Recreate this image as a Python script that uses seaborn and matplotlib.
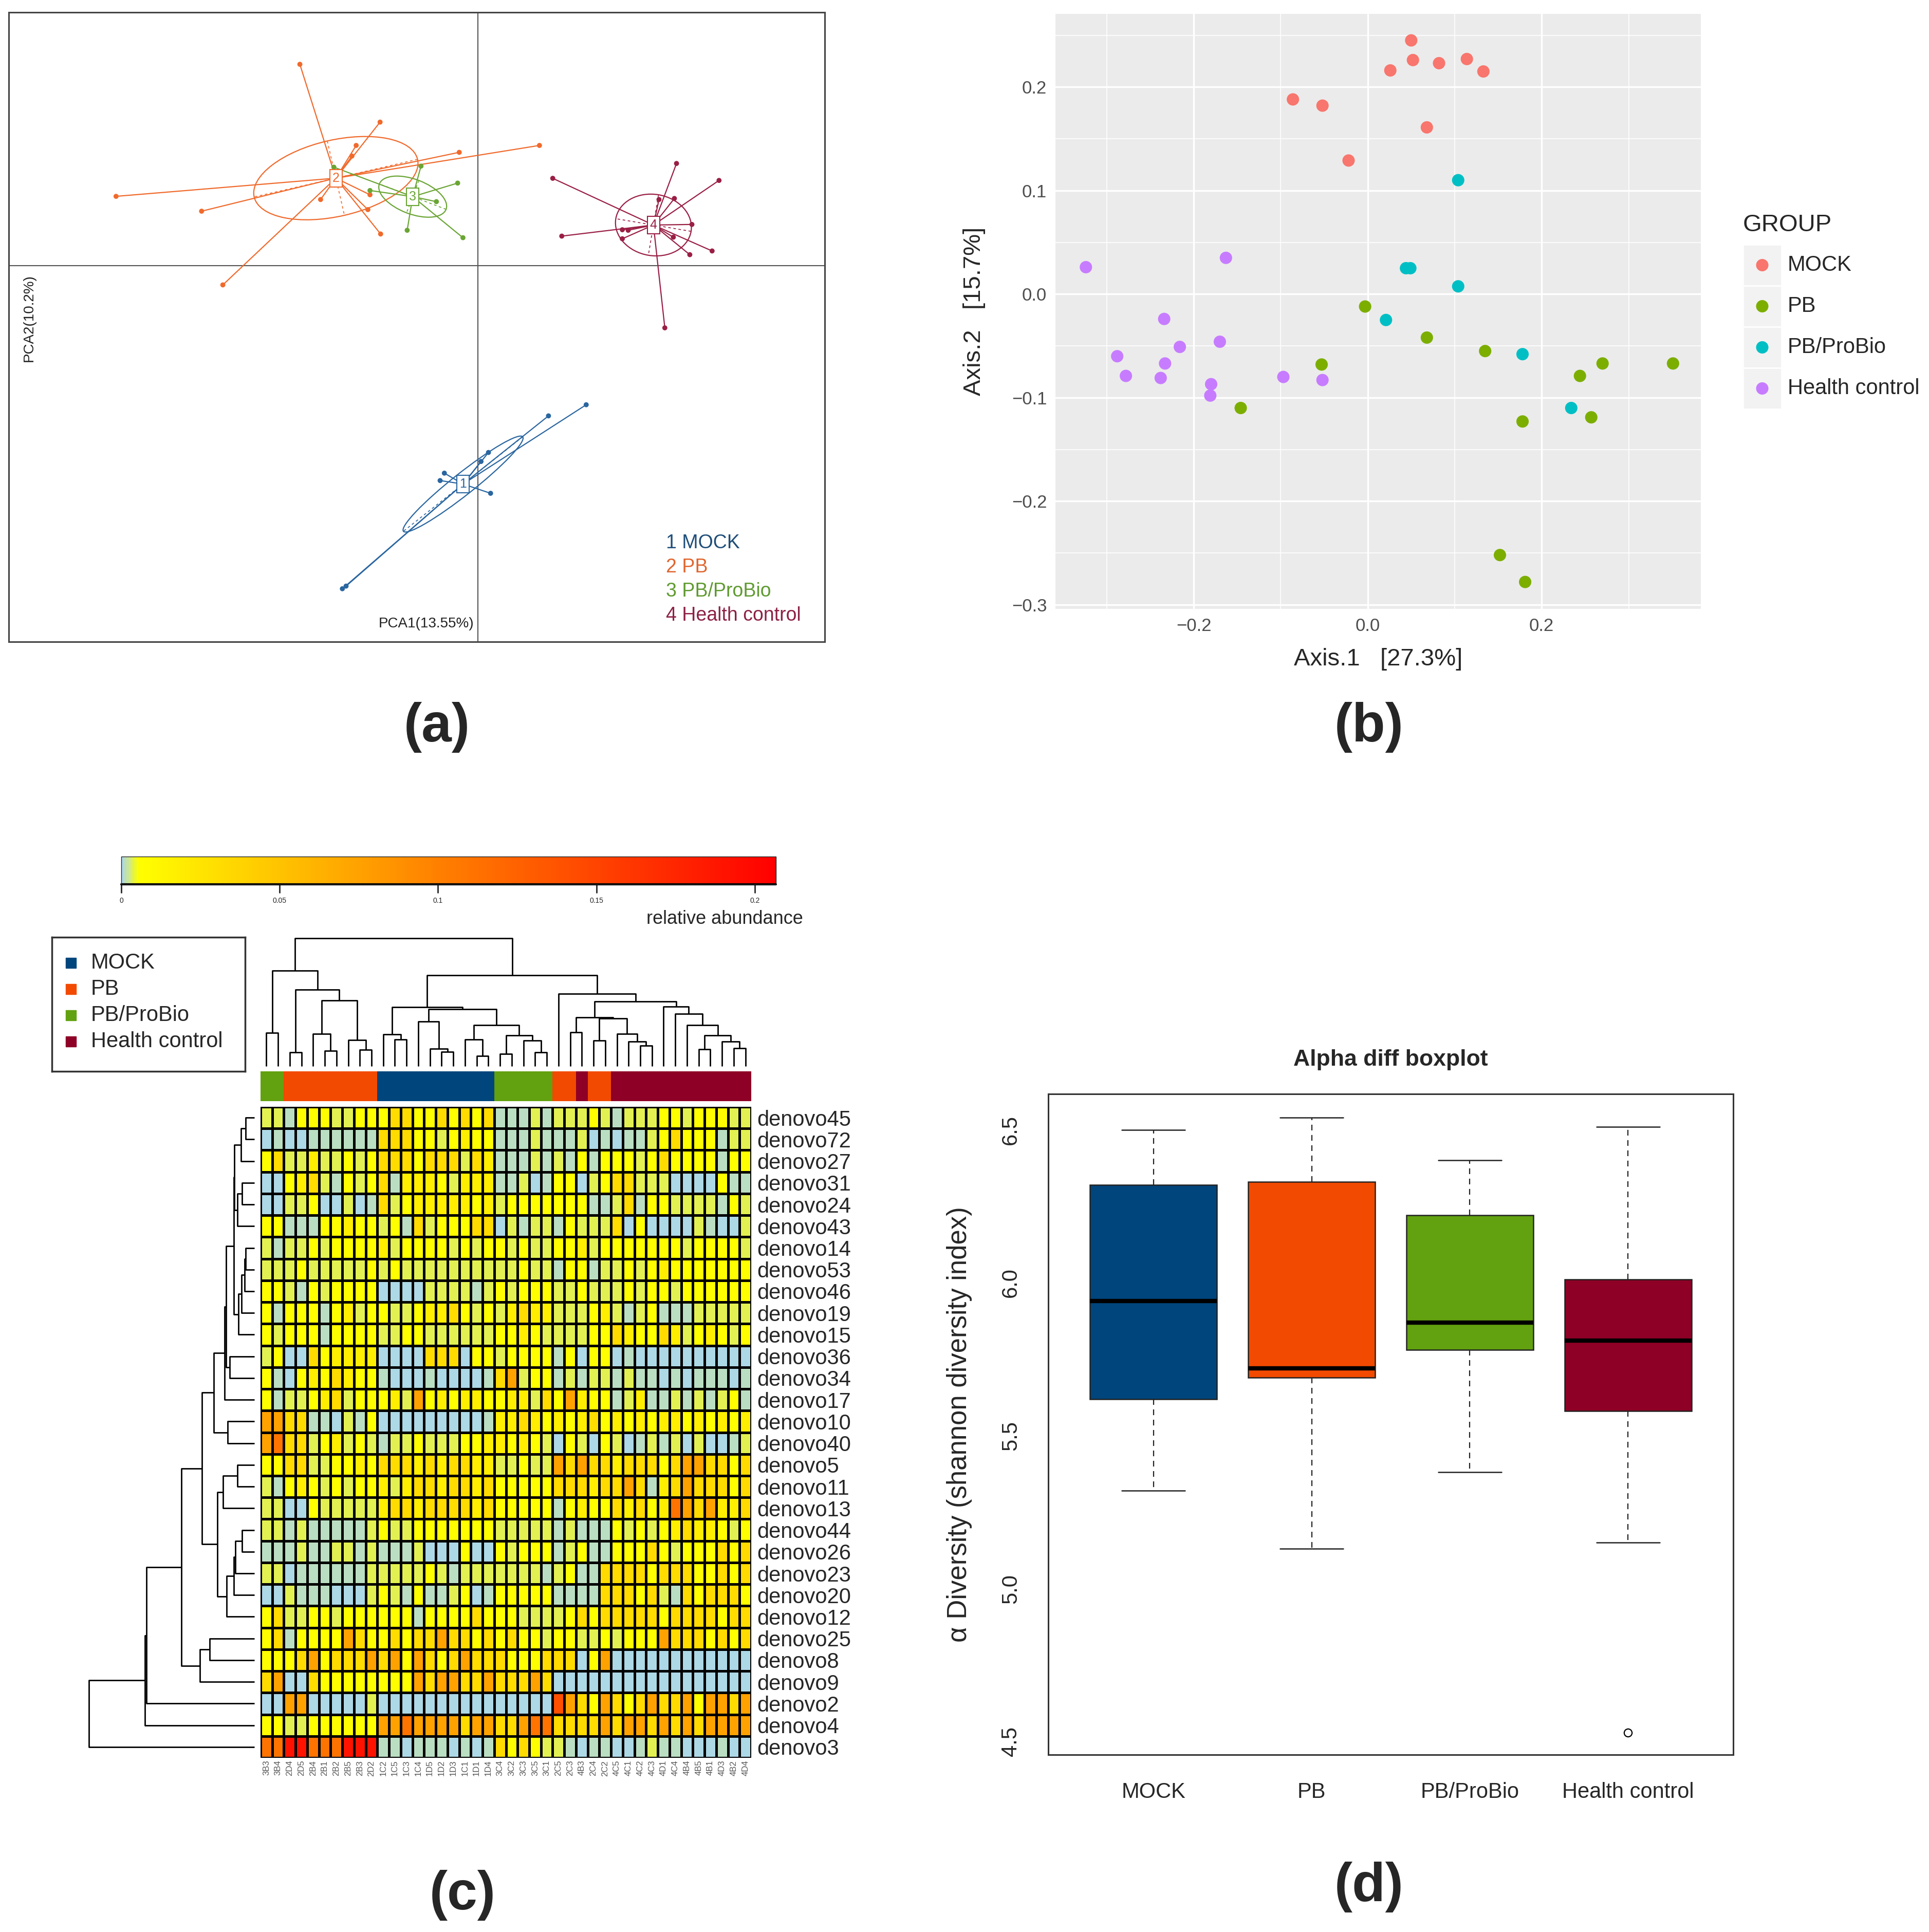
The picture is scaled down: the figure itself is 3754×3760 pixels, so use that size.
import numpy as np
import pandas as pd
import matplotlib
matplotlib.use("Agg")
import matplotlib.pyplot as plt
import seaborn as sns
from matplotlib.patches import Ellipse, Rectangle
from matplotlib.colors import LinearSegmentedColormap, ListedColormap, Normalize
from matplotlib.cm import ScalarMappable

sns.set_style("white")
plt.rcParams["font.family"] = ["Liberation Sans", "DejaVu Sans"]

W, H = 3754, 3760


def rect(x0, y0, x1, y1):
    # pixel box -> figure fraction
    return [x0 / W, 1 - y1 / H, (x1 - x0) / W, (y1 - y0) / H]


groups = ["MOCK", "PB", "PB/ProBio", "Health control"]
group_cols = ["#00457c", "#f24a00", "#62a10f", "#8e0026"]

# ---------------- (a) PCA star plot ----------------
mock_pc1 = np.array([2.04, 1.33, 0.20, 0.06, -0.63, -0.71, 0.24, -2.55, -2.48])
mock_pc2 = np.array([-2.62, -2.83, -3.52, -3.69, -3.91, -4.05, -4.29, -6.09, -6.04])
pb_pc1 = np.array([-3.35, -1.84, -2.29, -2.37, -0.35, 1.16, -6.81, -5.20, -2.96, -2.07, -1.83, -4.80, -2.03])
pb_pc2 = np.array([3.80, 2.71, 2.27, 2.07, 2.14, 2.27, 1.31, 1.03, 1.25, 1.06, 0.60, -0.36, 1.34])
probio_pc1 = np.array([-2.71, -1.07, -0.38, -2.03, -0.78, -1.33, -0.28])
probio_pc2 = np.array([1.86, 1.88, 1.56, 1.42, 1.21, 0.67, 0.53])
hc_pc1 = np.array([1.41, 3.74, 4.54, 3.41, 3.70, 4.03, 1.58, 2.72, 2.83, 2.72, 3.68, 4.41, 3.99, 3.52])
hc_pc2 = np.array([1.65, 1.93, 1.61, 1.25, 1.27, 0.78, 0.56, 0.68, 0.67, 0.51, 0.54, 0.28, 0.21, -1.17])
pca_line_cols = ["#2a66a0", "#f06a2c", "#6aa534", "#9a1f45"]
pca_text_cols = ["#1f4e79", "#e0652e", "#5f9a30", "#8c2146"]
ell_scale = 0.78

fig = plt.figure(figsize=(W / 100, H / 100), dpi=100)
ax_a = fig.add_axes(rect(17, 24, 1605, 1249))
ax_a.set_xlim(-8.83, 6.53)
ax_a.set_ylim(-7.09, 4.78)
ax_a.set_xticks([])
ax_a.set_yticks([])
for s in ax_a.spines.values():
    s.set_color("#444444")
    s.set_linewidth(2.2)
ax_a.axhline(0, color="#555555", lw=1.5)
ax_a.axvline(0, color="#555555", lw=1.5)

pca_sets = [(mock_pc1, mock_pc2), (pb_pc1, pb_pc2), (probio_pc1, probio_pc2), (hc_pc1, hc_pc2)]
for k, (xs, ys) in enumerate(pca_sets):
    col = pca_line_cols[k]
    cx, cy = xs.mean(), ys.mean()
    for x, y in zip(xs, ys):
        ax_a.plot([cx, x], [cy, y], color=col, lw=1.6, zorder=2)
    ax_a.scatter(xs, ys, s=50, color=col, zorder=3, edgecolor="none")
    cov = np.cov(np.vstack([xs, ys]), bias=True)
    vals, vecs = np.linalg.eigh(cov)
    ang = np.degrees(np.arctan2(vecs[1, 1], vecs[0, 1]))
    ax_a.add_patch(Ellipse((cx, cy), 2 * ell_scale * np.sqrt(vals[1]), 2 * ell_scale * np.sqrt(vals[0]),
                           angle=ang, fill=False, ec=col, lw=1.6, zorder=2))
    for j in range(2):
        v = vecs[:, j] * ell_scale * np.sqrt(vals[j])
        ax_a.plot([cx - v[0], cx + v[0]], [cy - v[1], cy + v[1]], color=col, lw=1.2,
                  ls=(0, (3, 3)), zorder=2)
    ax_a.text(cx, cy, str(k + 1), ha="center", va="center", fontsize=18, color=col, zorder=4,
              bbox=dict(boxstyle="square,pad=0.2", fc="white", ec=col, lw=1.5))

for k, g in enumerate(groups):
    fig.text(1296 / W, 1 - (1057 + 47 * k) / H, f"{k + 1} {g}", color=pca_text_cols[k],
             fontsize=27, va="center", ha="left")
fig.text(922 / W, 1 - 1214 / H, "PCA1(13.55%)", fontsize=20, ha="right", va="center", color="#222222")
fig.text(57 / W, 1 - 619 / H, "PCA2(10.2%)", fontsize=20, ha="center", va="center",
         rotation=90, color="#222222")

# ---------------- (b) PCoA scatter ----------------
b_palette = ["#F8766D", "#7CAE00", "#00BFC4", "#C77CFF"]
b_groups = ["MOCK", "PB", "PB/ProBio", "Health control"]
mock_ax1 = [0.050, 0.052, 0.026, 0.082, 0.114, 0.133, -0.086, -0.052, 0.068, -0.022]
mock_ax2 = [0.245, 0.226, 0.216, 0.223, 0.227, 0.215, 0.188, 0.182, 0.161, 0.129]
pb_ax1 = [-0.003, 0.068, 0.135, -0.053, 0.270, 0.351, 0.244, -0.146, 0.178, 0.257, 0.152, 0.181]
pb_ax2 = [-0.012, -0.042, -0.055, -0.068, -0.067, -0.067, -0.079, -0.110, -0.123, -0.119, -0.252, -0.278]
probio_ax1 = [0.104, 0.044, 0.049, 0.104, 0.021, 0.178, 0.234]
probio_ax2 = [0.110, 0.025, 0.025, 0.0075, -0.025, -0.058, -0.110]
hc_ax1 = [-0.324, -0.163, -0.234, -0.216, -0.170, -0.288, -0.233, -0.278, -0.238, -0.180, -0.181, -0.097, -0.052]
hc_ax2 = [0.026, 0.035, -0.024, -0.051, -0.046, -0.060, -0.067, -0.079, -0.081, -0.087, -0.098, -0.080, -0.083]

df_b = pd.concat([
    pd.DataFrame({"Axis1": mock_ax1, "Axis2": mock_ax2, "GROUP": "MOCK"}),
    pd.DataFrame({"Axis1": pb_ax1, "Axis2": pb_ax2, "GROUP": "PB"}),
    pd.DataFrame({"Axis1": probio_ax1, "Axis2": probio_ax2, "GROUP": "PB/ProBio"}),
    pd.DataFrame({"Axis1": hc_ax1, "Axis2": hc_ax2, "GROUP": "Health control"}),
])

ax_b = fig.add_axes(rect(2054, 27, 3310, 1185))
sns.scatterplot(data=df_b, x="Axis1", y="Axis2", hue="GROUP", hue_order=b_groups,
                palette=b_palette, s=300, edgecolor="none", legend=False, ax=ax_b, zorder=3)
ax_b.set_facecolor("#ebebeb")
ax_b.set_xlim(-0.359, 0.383)
ax_b.set_ylim(-0.304, 0.2706)
ax_b.set_xticks([-0.2, 0.0, 0.2])
ax_b.set_xticklabels(["\u22120.2", "0.0", "0.2"])
ax_b.set_yticks([-0.3, -0.2, -0.1, 0.0, 0.1, 0.2])
ax_b.set_yticklabels(["\u22120.3", "\u22120.2", "\u22120.1", "0.0", "0.1", "0.2"])
ax_b.set_xticks([-0.3, -0.1, 0.1, 0.3], minor=True)
ax_b.set_yticks([-0.25, -0.15, -0.05, 0.05, 0.15, 0.25], minor=True)
ax_b.grid(which="major", color="white", lw=2.4)
ax_b.grid(which="minor", color="white", lw=1.2)
ax_b.set_axisbelow(True)
for s in ax_b.spines.values():
    s.set_visible(False)
ax_b.tick_params(which="major", length=7, width=1.5, color="#333333", labelsize=25,
                 labelcolor="#4d4d4d", pad=5)
ax_b.tick_params(which="minor", length=0)
ax_b.set_xlabel("Axis.1   [27.3%]", fontsize=34)
ax_b.set_ylabel("Axis.2   [15.7%]", fontsize=34)
ax_b.xaxis.set_label_coords(0.5, -0.085)
ax_b.xaxis.label.set_va("center")
ax_b.yaxis.set_label_coords(-0.126, 0.5)
ax_b.yaxis.label.set_va("center")

# ggplot-like legend
ax_leg = fig.add_axes(rect(3392, 476, 3467, 796))
ax_leg.set_xlim(0, 1)
ax_leg.set_ylim(4, 0)
ax_leg.axis("off")
for k, g in enumerate(b_groups):
    ax_leg.add_patch(Rectangle((0, k), 1, 1, fc="#f2f2f2", ec="white", lw=2))
    ax_leg.scatter([0.5], [k + 0.5], s=300, color=b_palette[k], edgecolor="none")
    fig.text(3479 / W, 1 - (516 + 80 * k) / H, g, fontsize=30, va="center", ha="left")
fig.text(3392 / W, 1 - 438 / H, "GROUP", fontsize=34, va="center", ha="left")

# ---------------- (c) heatmap ----------------
row_names = ["denovo45", "denovo72", "denovo27", "denovo31", "denovo24", "denovo43", "denovo14",
             "denovo53", "denovo46", "denovo19", "denovo15", "denovo36", "denovo34", "denovo17",
             "denovo10", "denovo40", "denovo5", "denovo11", "denovo13", "denovo44", "denovo26",
             "denovo23", "denovo20", "denovo12", "denovo25", "denovo8", "denovo9", "denovo2",
             "denovo4", "denovo3"]
col_names = ["3B3", "3B4", "2D4", "2D5", "2B4", "2B1", "2B2", "2B5", "2B3", "2D2",
             "1C2", "1C5", "1C3", "1C4", "1D5", "1D2", "1D3", "1C1", "1D1", "1D4",
             "3C4", "3C2", "3C3", "3C5", "3C1", "2C5", "2C3", "4B3", "2C4", "2C2",
             "4C5", "4C1", "4C2", "4C3", "4D1", "4C4", "4B4", "4B5", "4B1", "4D3", "4B2", "4D4"]
# relative abundance read per cell, coded by colour level
level_value = {"b": 0.0, "g": 0.0015, "l": 0.0033, "y": 0.006, "z": 0.018, "Y": 0.032,
               "O": 0.075, "r": 0.11, "x": 0.14, "R": 0.19}
hm_rows = [
    "llgyyyllyy yYYyyYyYyY ggglglllyl glllyylyyyll",
    "bgbbgggggg YYYyylyzyy ggglggglbg bgglyYyyygll",
    "yYllzllyly YYYyYYYlYz ggglglgygy yylyYyyyygyy",
    "bbyzYlgyly Ygzzzylzzz gglbgyybly YYlllbbbbygg",
    "bbllybblbg Ylyzzzzzyz lyyyyyyygg lYgyyllllgyl",
    "yygggyyzyy lygYlyyyYY blgllgylll Ybybbbblgbbl",
    "lgllylyyyy zlyyyylyly ylyllyyzly yyyyyylyyyyl",
    "lllyllllly lyllllllll llyllgyygl lylyzyyyyyyy",
    "yylgylyyyy bbbbllllgl ylyyyllyll lylyylyyyyyy",
    "ygyyygyzly yllyzzYyly lzYzzlllyz lglyggglllll",
    "ylyyygyyyy llyyllllll yyzyllllyy YzyyYzlyzyly",
    "lybbYyzzzz bbbbYYYbyy lyyyygybyy bgbbbbbbbbbb",
    "ygbyzyYzyy gbbbgbbbbg YOlyyglgll glggbgbgggbg",
    "ygllyzYlyy yzlOyzyzzy yzzlYyOzyy glzgglglglyg",
    "OOYYggblgy bbbbbbbbbg zzYzyzyzYy zyzyzzyzyzyz",
    "OrYYlyzlyl gllylllyyz zyzylbylby lbglglblbbgl",
    "yyYYllyyzy YYYzYzYYzz llyllOYOYY zYYYyYOOYYyY",
    "lgyzylylyy zlzYYzYYzY yyyyyYYYzY YOYgzYOYYYyY",
    "llbbylllll zYYzYYYYzY yyyyygyzyy YzYyzrOYOzzY",
    "llglgggggl yllyyyyyyy lllllglggg ylylyzYzzyly",
    "ggglggllgl ggglbbbybb ylyyyglygg yyyYylyyyYyY",
    "llbggggggl llllylglll llllglyggY YYYyYYYyyYyY",
    "bblgggbbbl ylgygglybg yyyyyggggY YYyYlgYyYYYy",
    "yYllyylyyy yyygyyyyYy yyllllyYyY YYYYyYYYYyYY",
    "yYgyyyyOYy yYyYYOYYyY yYyylyylly lyyyOYYYyYyY",
    "yyyYOyYYYO YOyOYyYOYY YyyyYYYbyO bbbbbbbbbbbb",
    "YObbYyyyyy yyyOYOOYYO YYYOYbbbbb bbbbbbbbbbbb",
    "bbOObbbbbl bbbbbbbbbb bbbbbxOYyO YyYOYYOyOOYO",
    "yyllyyyyyy OOrOOOOYOO YYOrrYYYYO YOOYOYOYOOOO",
    "rrRRrrrRRR ggbgggbgbg YyYyllgbgg bbglggbbbgbb",
]
hm_values = np.array([[level_value[c] for c in "".join(r.split())] for r in hm_rows])
df_hm = pd.DataFrame(hm_values, index=row_names, columns=col_names)

# column (sample) clustering, scipy-style merge table: (a, b, height), new ids from 42
col_links = [(0, 1, .26), (2, 3, .107), (5, 6, .12), (4, 44, .253), (8, 9, .127), (7, 46, .203),
             (45, 47, .513), (43, 48, .60), (42, 49, .747), (11, 12, .207), (10, 51, .25),
             (15, 16, .113), (14, 53, .136), (13, 54, .349), (18, 19, .08), (17, 56, .207),
             (20, 21, .096), (23, 24, .109), (22, 59, .2), (58, 60, .24), (57, 61, .323),
             (55, 62, .447), (52, 63, .46), (26, 27, .267), (28, 29, .2), (32, 33, .16),
             (31, 67, .193), (30, 68, .253), (66, 69, .373), (65, 70, .38), (37, 38, .133),
             (40, 41, .14), (39, 73, .193), (72, 74, .24), (36, 75, .323), (35, 76, .409),
             (34, 77, .467), (71, 78, .507), (25, 79, .567), (64, 80, .709), (50, 81, 1.0)]
# row (OTU) clustering, new ids from 30
row_links = [(0, 1, .054), (30, 2, .080), (3, 4, .073), (32, 5, .104), (31, 33, .12),
             (6, 7, .052), (35, 8, .059), (36, 9, .078), (37, 10, .096), (34, 38, .124),
             (11, 12, .150), (39, 40, .171), (41, 13, .181), (14, 15, .161), (42, 43, .244),
             (16, 17, .104), (45, 18, .19), (19, 20, .075), (47, 21, .114), (48, 22, .124),
             (49, 23, .168), (46, 50, .223), (44, 51, .318), (24, 25, .269), (53, 26, .328),
             (52, 54, .44), (55, 27, .653), (56, 28, .663), (57, 29, 1.0)]


def draw_dendro(ax, links, n, side):
    pos = {i: i + 0.5 for i in range(n)}
    hgt = {i: 0.0 for i in range(n)}
    for k, (a, b, h) in enumerate(links):
        node = n + k
        xs = [pos[a], pos[a], pos[b], pos[b]]
        ys = [hgt[a], h, h, hgt[b]]
        if side == "top":
            ax.plot(xs, ys, color="black", lw=2, clip_on=False, solid_capstyle="butt")
        else:
            ax.plot(ys, xs, color="black", lw=2, clip_on=False, solid_capstyle="butt")
        pos[node] = (pos[a] + pos[b]) / 2
        hgt[node] = h


hm_vmax = 0.2067
hm_cmap = LinearSegmentedColormap.from_list(
    "abund", [(0.0, "#add8e6"), (0.005 / hm_vmax, "#ffff00"), (0.1 / hm_vmax, "#ff8000"),
              (1.0, "#ff0000")])

ax_hm = fig.add_axes(rect(507, 2154, 1462, 3421))
sns.heatmap(df_hm, cmap=hm_cmap, vmin=0, vmax=hm_vmax, linewidths=2.2, linecolor="black",
            cbar=False, ax=ax_hm, xticklabels=True, yticklabels=True)
ax_hm.yaxis.tick_right()
ax_hm.set_yticklabels(row_names, rotation=0, fontsize=30)
ax_hm.set_xticklabels(col_names, rotation=90, fontsize=12, color="#555555")
ax_hm.tick_params(length=0)
ax_hm.tick_params(axis="y", pad=8)
ax_hm.set_xlabel("")
ax_hm.set_ylabel("")

# group annotation bar
col_group = [int(c[0]) - 1 for c in col_names]
ax_gb = fig.add_axes(rect(507, 2085, 1462, 2143))
sns.heatmap(pd.DataFrame([col_group]), cmap=ListedColormap(group_cols), vmin=-0.5, vmax=3.5,
            cbar=False, ax=ax_gb, xticklabels=False, yticklabels=False)

ax_cd = fig.add_axes(rect(507, 1826, 1462, 2075))
draw_dendro(ax_cd, col_links, len(col_names), "top")
ax_cd.set_xlim(0, len(col_names))
ax_cd.set_ylim(0, 1)
ax_cd.axis("off")

ax_rd = fig.add_axes(rect(173, 2154, 495, 3421))
draw_dendro(ax_rd, row_links, len(row_names), "left")
ax_rd.set_ylim(len(row_names), 0)
ax_rd.set_xlim(1, 0)
ax_rd.axis("off")

# colour key
ax_cb = fig.add_axes(rect(236, 1667, 1510, 1721))
cb = fig.colorbar(ScalarMappable(norm=Normalize(0, hm_vmax), cmap=hm_cmap), cax=ax_cb,
                  orientation="horizontal", ticks=[0, 0.05, 0.1, 0.15, 0.2])
cb.ax.set_xticklabels(["0", "0.05", "0.1", "0.15", "0.2"])
cb.ax.tick_params(labelsize=10, length=12, width=2, pad=6)
cb.outline.set_linewidth(1)
ax_cb.axhline(0, color="black", lw=3, clip_on=False)
fig.text(1563 / W, 1 - 1788 / H, "relative abundance", fontsize=26, ha="right", va="center")

# group legend box
ax_lg = fig.add_axes(rect(101, 1824, 477, 2085))
ax_lg.set_xlim(101, 477)
ax_lg.set_ylim(2085, 1824)
ax_lg.set_xticks([])
ax_lg.set_yticks([])
for s in ax_lg.spines.values():
    s.set_linewidth(2.5)
    s.set_color("#333333")
for k, g in enumerate(groups):
    yc = 1874 + 51 * k
    ax_lg.add_patch(Rectangle((128, yc - 10), 20, 20, color=group_cols[k]))
    ax_lg.text(177, yc, g, fontsize=30, va="center", ha="left")

# ---------------- (d) boxplot ----------------
box_low = [5.32, 5.13, 5.38, 5.15]
box_q1 = [5.62, 5.69, 5.78, 5.58]
box_med = [5.94, 5.72, 5.87, 5.81]
box_q3 = [6.32, 6.33, 6.22, 6.01]
box_high = [6.50, 6.54, 6.40, 6.51]
box_out = [[], [], [], [4.53]]

ax_d = fig.add_axes(rect(2040, 2129, 3373, 3415))
stats = [dict(whislo=box_low[i], q1=box_q1[i], med=box_med[i], q3=box_q3[i], whishi=box_high[i],
              fliers=box_out[i], label=groups[i]) for i in range(4)]
bp = ax_d.bxp(stats, positions=[1, 2, 3, 4], widths=0.8, capwidths=0.4, patch_artist=True,
              showfliers=True,
              boxprops=dict(edgecolor="#222222", lw=1.8),
              medianprops=dict(color="black", lw=6, solid_capstyle="butt"),
              whiskerprops=dict(color="#222222", lw=1.6, ls=(0, (5, 4))),
              capprops=dict(color="#222222", lw=1.8),
              flierprops=dict(marker="o", mfc="none", mec="black", ms=11, mew=1.6))
for patch, c in zip(bp["boxes"], group_cols):
    patch.set_facecolor(c)
ax_d.set_xlim(0.336, 4.664)
ax_d.set_ylim(4.457, 6.617)
ax_d.set_xticks([1, 2, 3, 4])
ax_d.set_xticklabels(groups, fontsize=30)
ax_d.set_yticks([4.5, 5.0, 5.5, 6.0, 6.5])
ax_d.set_yticklabels(["4.5", "5.0", "5.5", "6.0", "6.5"], fontsize=30, rotation=90, va="center")
ax_d.tick_params(axis="x", length=16, width=1.8, color="#222222", pad=22, direction="out")
ax_d.tick_params(axis="y", length=16, width=1.8, color="#222222", pad=22, direction="out")
for s in ax_d.spines.values():
    s.set_linewidth(2.2)
    s.set_color("#333333")
ax_d.set_ylabel("\u03b1 Diversity (shannon diversity index)", fontsize=38)
ax_d.yaxis.set_label_coords(-0.13, 0.5)
ax_d.yaxis.label.set_va("center")
ax_d.text(0.5, 1.052, "Alpha diff boxplot", transform=ax_d.transAxes, ha="center", va="center",
          fontsize=32, fontweight="bold")

# panel letters
for lab, (px, py) in {"(a)": (850, 1416), "(b)": (2664, 1416),
                      "(c)": (900, 3689), "(d)": (2664, 3672)}.items():
    fig.text(px / W, 1 - py / H, lab, fontsize=76, fontweight="bold", ha="center", va="center")

fig.savefig("out.png", dpi=100)
